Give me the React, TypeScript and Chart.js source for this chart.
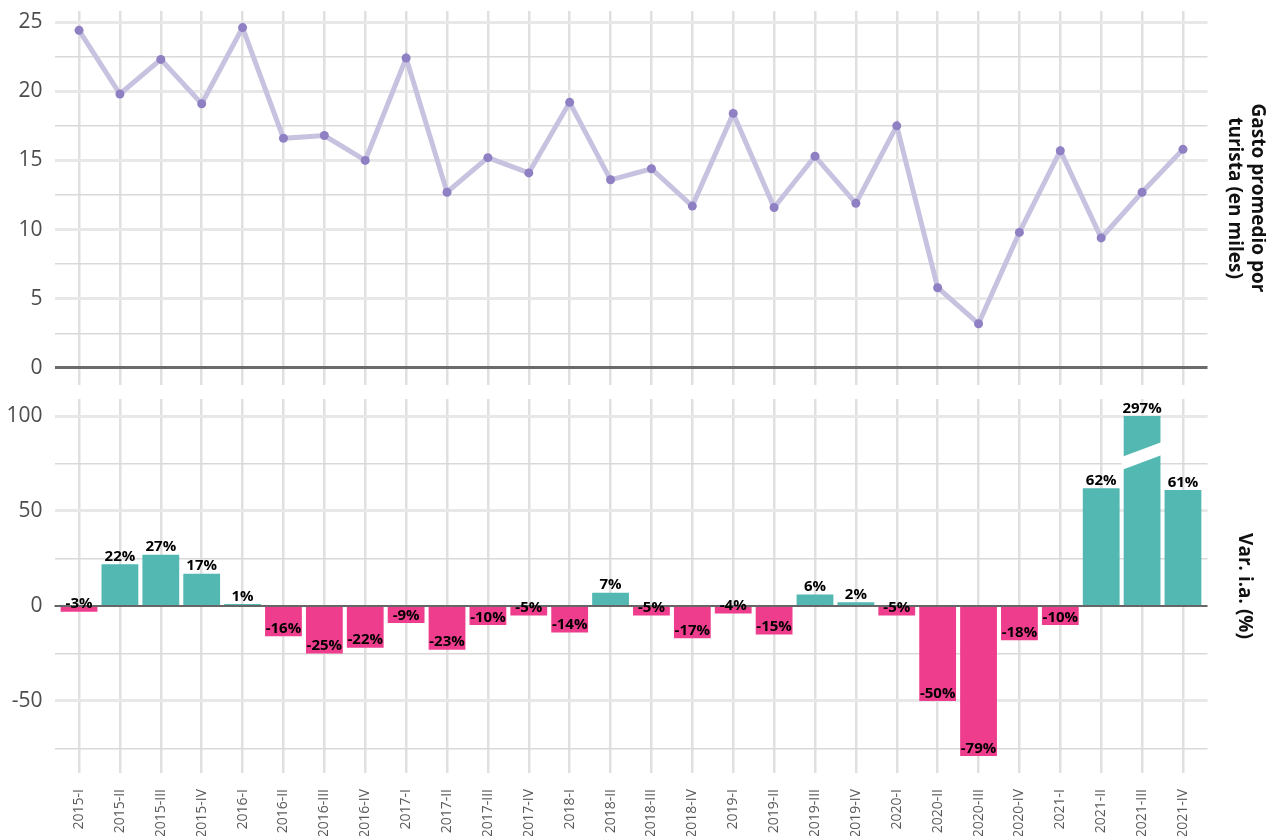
import React, { useEffect, useRef } from "react";
import { Chart, registerables } from "chart.js";

Chart.register(...registerables);

const quarters = [
  "2015-I", "2015-II", "2015-III", "2015-IV",
  "2016-I", "2016-II", "2016-III", "2016-IV",
  "2017-I", "2017-II", "2017-III", "2017-IV",
  "2018-I", "2018-II", "2018-III", "2018-IV",
  "2019-I", "2019-II", "2019-III", "2019-IV",
  "2020-I", "2020-II", "2020-III", "2020-IV",
  "2021-I", "2021-II", "2021-III", "2021-IV",
];

const gastoPromedio = [
  24.4, 19.8, 22.3, 19.1,
  24.6, 16.6, 16.8, 15.0,
  22.4, 12.7, 15.2, 14.1,
  19.2, 13.6, 14.4, 11.7,
  18.4, 11.6, 15.3, 11.9,
  17.5, 5.8, 3.2, 9.8,
  15.7, 9.4, 12.7, 15.8,
];

const varInteranual = [
  -3, 22, 27, 17,
  1, -16, -25, -22,
  -9, -23, -10, -5,
  -14, 7, -5, -17,
  -4, -15, 6, 2,
  -5, -50, -79, -18,
  -10, 62, 297, 61,
];

const BAR_CAP = 100;
const BREAK_AT = 79;

const topTitle = ["Gasto promedio por", "turista (en miles)"];
const bottomTitle = "Var. i.a. (%)";

const FONT = "'Open Sans', 'Noto Sans', sans-serif";
const TEAL = "#52b8b1";
const PINK = "#ee3d8d";
const W = 1266;
const LEFT_W = 54.5;
const RIGHT_W = 58.5;

const TOP_H = 392;
const BOT_TOP = 392;
const BOT_H = 836 - 392;

function noPad(scale: any) {
  scale.paddingTop = 0;
  scale.paddingBottom = 0;
  scale.paddingLeft = 0;
  scale.paddingRight = 0;
}

function xScale(showLabels: boolean, height: number) {
  return {
    type: "linear" as const,
    min: -0.6,
    max: quarters.length - 1 + 0.6,
    position: "bottom" as const,
    offset: false,
    border: { display: false },
    grid: { color: "#e0e0e0", lineWidth: 2.5, drawTicks: false, offset: false },
    ticks: {
      display: showLabels,
      stepSize: 1,
      includeBounds: false,
      autoSkip: false,
      minRotation: 90,
      maxRotation: 90,
      padding: 16,
      color: "#5a5a5a",
      font: { family: FONT, size: 14 },
      callback: (v: any) => {
        const i = Math.round(Number(v));
        return Number.isInteger(Number(v)) && quarters[i] ? quarters[i] : "";
      },
    },
    afterFit: (s: any) => {
      s.height = height;
      noPad(s);
    },
  };
}

function yScale(min: number, max: number, step: number, labelEvery: number, zeroColor: string, zeroWidth: number) {
  return {
    type: "linear" as const,
    position: "left" as const,
    min,
    max,
    border: { display: false },
    grid: {
      drawTicks: false,
      color: (c: any) => {
        const v = c.tick ? c.tick.value : 1;
        if (Math.abs(v) < 1e-9) return zeroColor;
        return Math.abs(v / labelEvery - Math.round(v / labelEvery)) < 1e-9 ? "#e8e8e8" : "#d9d9d9";
      },
      lineWidth: (c: any) => {
        const v = c.tick ? c.tick.value : 1;
        if (Math.abs(v) < 1e-9) return zeroWidth;
        return Math.abs(v / labelEvery - Math.round(v / labelEvery)) < 1e-9 ? 3 : 1.5;
      },
    },
    ticks: {
      stepSize: step,
      includeBounds: false,
      padding: 12,
      color: "#4d4d4d",
      font: { family: FONT, size: 21 },
      callback: (v: any) => {
        const n = Number(v);
        return Math.abs(n / labelEvery - Math.round(n / labelEvery)) < 1e-9 ? String(Math.round(n)) : "";
      },
    },
    afterFit: (s: any) => {
      s.width = LEFT_W;
      noPad(s);
    },
  };
}

function titleScale(text: string | string[], padTop: number) {
  return {
    type: "linear" as const,
    position: "right" as const,
    display: true,
    border: { display: false },
    grid: { display: false, drawTicks: false },
    ticks: { display: false },
    title: {
      display: true,
      text,
      color: "#111",
      font: { family: FONT, size: 19, weight: "bold" as const, lineHeight: 1.2 },
      padding: { top: padTop, bottom: 0 },
    },
    afterFit: (s: any) => {
      s.width = RIGHT_W;
      noPad(s);
    },
  };
}

const barDecor = {
  id: "barDecor",
  afterDatasetsDraw(chart: any) {
    const { ctx, chartArea, scales } = chart;
    const y = scales.y;
    const meta = chart.getDatasetMeta(0);
    ctx.save();
    const y0 = y.getPixelForValue(0);
    ctx.strokeStyle = "#666";
    ctx.lineWidth = 2;
    ctx.beginPath();
    ctx.moveTo(chartArea.left, y0);
    ctx.lineTo(chartArea.right, y0);
    ctx.stroke();
    varInteranual.forEach((v, i) => {
      if (v <= BAR_CAP) return;
      const el = meta.data[i];
      const half = el.width / 2 + 2;
      const x0 = el.x;
      const yc = y.getPixelForValue(BREAK_AT);
      const slope = -14 / 37;
      const yl = yc - half * slope;
      const yr = yc + half * slope;
      ctx.fillStyle = "#ffffff";
      ctx.beginPath();
      ctx.moveTo(x0 - half, yl - 6.5);
      ctx.lineTo(x0 + half, yr - 6.5);
      ctx.lineTo(x0 + half, yr + 6.5);
      ctx.lineTo(x0 - half, yl + 6.5);
      ctx.closePath();
      ctx.fill();
    });
    ctx.fillStyle = "#000";
    ctx.font = `bold 15px ${FONT}`;
    ctx.textAlign = "center";
    ctx.textBaseline = "bottom";
    varInteranual.forEach((v, i) => {
      const el = meta.data[i];
      ctx.fillText(`${v}%`, el.x, el.y);
    });
    ctx.restore();
  },
};

export default function App() {
  const topRef = useRef<HTMLCanvasElement>(null);
  const botRef = useRef<HTMLCanvasElement>(null);

  useEffect(() => {
    const top = new Chart(topRef.current!, {
      type: "line",
      data: {
        datasets: [
          {
            data: gastoPromedio.map((v, i) => ({ x: i, y: v })),
            borderColor: "#c7c2df",
            borderWidth: 5,
            pointRadius: 4.5,
            pointBorderWidth: 0,
            pointBackgroundColor: "#8f80c4",
            tension: 0,
          },
        ],
      },
      options: {
        responsive: false,
        animation: false,
        events: [],
        layout: { padding: { top: 11, bottom: 0, left: 0, right: 0 } },
        plugins: { legend: { display: false }, tooltip: { enabled: false } },
        scales: {
          x: xScale(false, TOP_H - 385),
          y: yScale(-1.23, 25.8, 2.5, 5, "#6b6b6b", 3),
          yt: titleScale(topTitle, -3),
        },
      },
    });

    const bot = new Chart(botRef.current!, {
      type: "bar",
      data: {
        datasets: [
          {
            data: varInteranual.map((v, i) => ({ x: i, y: Math.min(v, BAR_CAP) })),
            backgroundColor: varInteranual.map((v) => (v >= 0 ? TEAL : PINK)),
            barPercentage: 0.9,
            categoryPercentage: 1,
            borderWidth: 0,
          },
        ],
      },
      options: {
        responsive: false,
        animation: false,
        events: [],
        layout: { padding: { top: 399 - BOT_TOP, bottom: 0, left: 0, right: 0 } },
        plugins: { legend: { display: false }, tooltip: { enabled: false } },
        scales: {
          x: xScale(true, 836 - 773),
          y: yScale(-87.95, 108.95, 25, 50, "rgba(0,0,0,0)", 0),
          yt: titleScale(bottomTitle, 10),
        },
      },
      plugins: [barDecor],
    });

    return () => {
      top.destroy();
      bot.destroy();
    };
  }, []);

  return (
    <div style={{ position: "absolute", left: 0, top: 0, width: W, height: 836, background: "#fff" }}>
      <canvas ref={topRef} width={W} height={TOP_H} style={{ position: "absolute", left: 0, top: 0 }} />
      <canvas ref={botRef} width={W} height={BOT_H} style={{ position: "absolute", left: 0, top: BOT_TOP }} />
    </div>
  );
}
